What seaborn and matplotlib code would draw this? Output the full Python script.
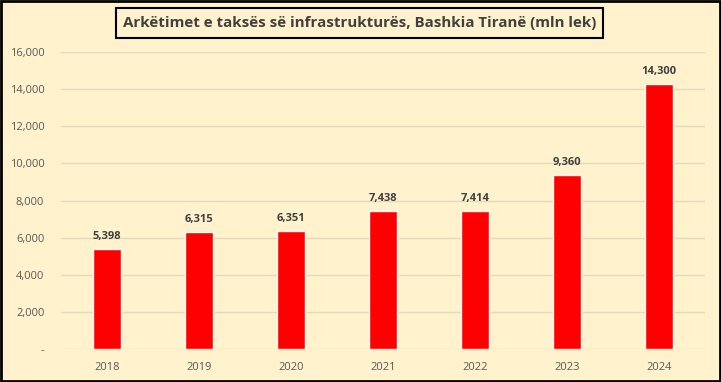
import matplotlib
matplotlib.use("Agg")
import matplotlib.pyplot as plt
import seaborn as sns
import pandas as pd
from matplotlib.patches import Rectangle

years = ["2018", "2019", "2020", "2021", "2022", "2023", "2024"]
values = [5398, 6315, 6351, 7438, 7414, 9360, 14300]
yticks = [0, 2000, 4000, 6000, 8000, 10000, 12000, 14000, 16000]
ytick_labels = ["-", "2,000", "4,000", "6,000", "8,000", "10,000", "12,000", "14,000", "16,000"]
title = "Arkëtimet e taksës së infrastrukturës, Bashkia Tiranë (mln lek)"

sns.set_theme(style="white")
plt.rcParams['font.family'] = ['Open Sans', 'DejaVu Sans']

bg = "#FFF2CC"
W, H = 721, 382
fig = plt.figure(figsize=(7.21, 3.82), dpi=100, facecolor=bg)
ax = fig.add_axes([61/W, 1 - 349/H, (705-61)/W, (349-52)/H])
ax.set_facecolor(bg)

df = pd.DataFrame({"year": years, "value": values})
sns.barplot(data=df, x="year", y="value", color="#FF0000", saturation=1, width=0.31, ax=ax, zorder=3)

ax.set_ylim(0, 16000)
ax.set_yticks(yticks)
ax.set_yticklabels(ytick_labels)
ax.set_xlabel("")
ax.set_ylabel("")
ax.grid(axis="y", color="#E3D9BC", linewidth=1, zorder=0)
ax.set_axisbelow(True)
for s in ax.spines.values():
    s.set_visible(False)
ax.tick_params(axis="both", length=0, labelsize=8, labelcolor="#595959")
ax.tick_params(axis="y", pad=12)
ax.tick_params(axis="x", pad=9)

for i, v in enumerate(values):
    ax.annotate(f"{v:,}", (i, v), xytext=(0, 5), textcoords="offset points",
                ha="center", va="bottom", fontsize=8, fontweight="bold", color="#404040")

# title box
fig.add_artist(Rectangle((116/W, 1 - 38/H), (603-116)/W, 30/H, transform=fig.transFigure,
                         facecolor=bg, edgecolor="#000000", linewidth=1.5, zorder=5))
fig.text(359.5/W, 1 - 23.5/H, title, ha="center", va="center", fontsize=10.9,
         fontweight="bold", color="#404040", zorder=6)

fig.add_artist(Rectangle((0.001, 0.002), 0.997, 0.995, transform=fig.transFigure,
                         fill=False, edgecolor="black", linewidth=2))

fig.savefig("out.png", dpi=100, facecolor=bg)
